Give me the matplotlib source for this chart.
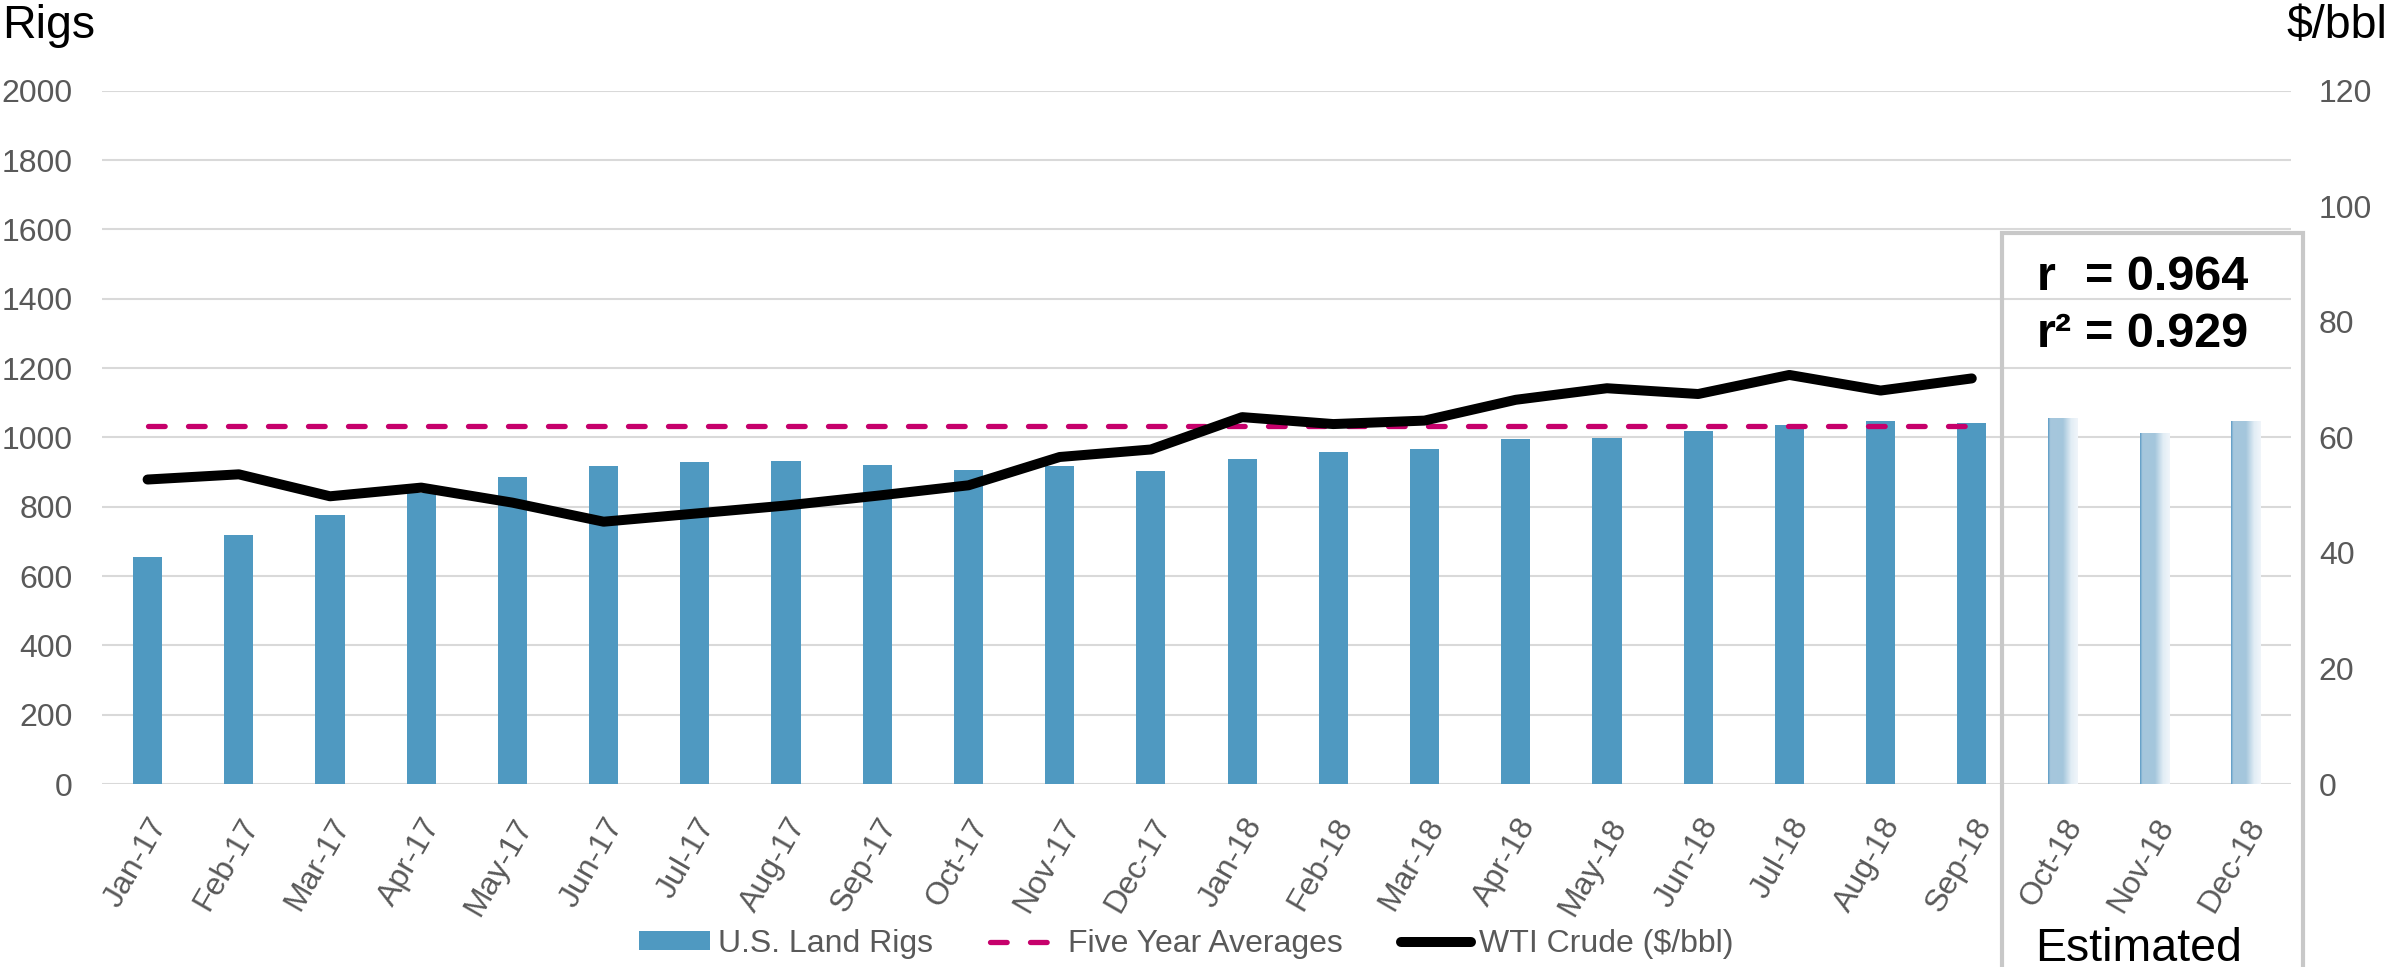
import numpy as np
import matplotlib.pyplot as plt
from matplotlib.patches import Rectangle
from matplotlib.lines import Line2D
from matplotlib.colors import LinearSegmentedColormap

plt.rcParams['font.family'] = ['Liberation Sans', 'DejaVu Sans']
plt.rcParams['lines.scale_dashes'] = False

# data
months = ['Jan-17', 'Feb-17', 'Mar-17', 'Apr-17', 'May-17', 'Jun-17', 'Jul-17', 'Aug-17',
          'Sep-17', 'Oct-17', 'Nov-17', 'Dec-17', 'Jan-18', 'Feb-18', 'Mar-18', 'Apr-18',
          'May-18', 'Jun-18', 'Jul-18', 'Aug-18', 'Sep-18', 'Oct-18', 'Nov-18', 'Dec-18']
land_rigs = [655, 719, 775, 840, 887, 917, 930, 931, 920, 906, 916, 903,
             937, 959, 966, 995, 998, 1018, 1035, 1048, 1042]
rigs_estimated = [1055, 1011, 1046]
wti = [52.7, 53.6, 49.8, 51.3, 48.7, 45.4, 46.8, 48.2, 49.9, 51.7, 56.6, 57.9,
       63.5, 62.3, 62.9, 66.5, 68.5, 67.5, 70.8, 68.1, 70.2]
five_year_avg = 62.0

gray = '#595959'
bar_color = '#4f99c1'
fs = 23

fig = plt.figure(figsize=(23.92, 9.67), dpi=100)
ax = fig.add_axes([102 / 2392, 1 - 784 / 967, (2291 - 102) / 2392, (784 - 90.7) / 967])
ax2 = ax.twinx()

x = np.arange(len(months))
n_act = len(land_rigs)

bars = ax.bar(x[:n_act], land_rigs, width=0.32, color=bar_color, zorder=2)

# estimated bars with a light gradient fill
cmap = LinearSegmentedColormap.from_list('est', [
    (0.0, '#5d9cc6'), (0.07, '#a6c7dd'), (0.5, '#a4c6dc'),
    (0.78, '#e2edf5'), (1.0, '#f0f5fa')])
grad = np.linspace(0, 1, 64).reshape(1, -1)
est = ax.bar(x[n_act:], rigs_estimated, width=0.32, color='none', zorder=2)
for r in est:
    ax.imshow(grad, extent=[r.get_x(), r.get_x() + r.get_width(), 0, r.get_height()],
              aspect='auto', cmap=cmap, zorder=2, interpolation='bilinear')

ax.set_xlim(-0.5, len(months) - 0.5)
ax.set_ylim(0, 2000)
ax.set_yticks(np.arange(0, 2001, 200))
ax.yaxis.grid(True, color='#d9d9d9', lw=1.5)
ax.set_axisbelow(True)
ax.set_xticks(x)
ax.set_xticklabels(months, rotation=60, ha='right', va='top', rotation_mode='anchor')
ax.tick_params(axis='y', length=0, pad=21, labelsize=fs, labelcolor=gray)
ax.tick_params(axis='x', length=0, pad=21, labelsize=fs, labelcolor=gray)

ax2.plot([x[0], x[n_act - 1]], [five_year_avg, five_year_avg], color='#c6006b',
         lw=3.8, dashes=(12, 16.8), dash_capstyle='round', zorder=3)
ax2.plot(x[:n_act], wti, color='black', lw=7.2, solid_capstyle='round',
         solid_joinstyle='round', zorder=4)
ax2.set_ylim(0, 120)
ax2.set_yticks(np.arange(0, 121, 20))
ax2.tick_params(axis='y', length=0, pad=20, labelsize=fs, labelcolor=gray)

for a in (ax, ax2):
    for s in a.spines.values():
        s.set_visible(False)

fig.text(0.001, 1 - 38 / 967, 'Rigs', fontsize=33.5, va='baseline', ha='left')
fig.text(0.998, 1 - 38 / 967, '$/bbl', fontsize=33.5, va='baseline', ha='right')
fig.text(2139 / 2392, 1 - 961 / 967, 'Estimated', fontsize=33.5, va='baseline', ha='center')

# correlation box
fig.add_artist(Rectangle((2002 / 2392, -0.05), (2303 - 2002) / 2392, (967 - 233) / 967 + 0.05,
                         transform=fig.transFigure, fill=False, ec='#c8c8c8', lw=3))
fig.text(2037 / 2392, 1 - 290 / 967, 'r', fontsize=35, fontweight='bold', va='baseline')
fig.text(2085 / 2392, 1 - 290 / 967, '= 0.964', fontsize=35, fontweight='bold', va='baseline')
fig.text(2037 / 2392, 1 - 347 / 967, 'r\u00b2', fontsize=35, fontweight='bold', va='baseline')
fig.text(2085 / 2392, 1 - 347 / 967, '= 0.929', fontsize=35, fontweight='bold', va='baseline')

leg_avg = Line2D([], [], color='#c6006b', lw=3.8, dashes=(12, 16.8), dash_capstyle='round')
leg_wti = Line2D([], [], color='black', lw=7.2, solid_capstyle='round')
fig.legend([bars, leg_avg, leg_wti], ['U.S. Land Rigs', 'Five Year Averages', 'WTI Crude ($/bbl)'],
           loc='center', bbox_to_anchor=(0.496, 1 - 944 / 967), ncol=3, frameon=False,
           fontsize=fs, labelcolor=gray, handlelength=2.2, handleheight=0.55,
           handletextpad=0.25, columnspacing=1.8)

fig.savefig('out.png', dpi=100)
